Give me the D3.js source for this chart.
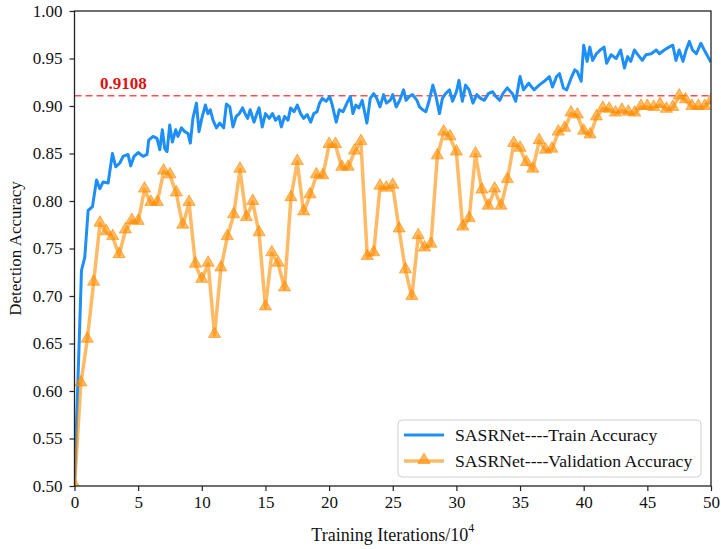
<!DOCTYPE html>
<html><head><meta charset="utf-8">
<script src="https://cdn.jsdelivr.net/npm/d3@7"></script>
<style>body{margin:0;background:#fff}svg{display:block}text{font-family:"Liberation Serif","Times New Roman",serif}</style>
</head><body><svg id="c" width="721" height="549"></svg>
<script>
const valIter = d3.range(0, 50.001, 0.5);
const valAcc = [0.500,0.608,0.654,0.714,0.776,0.767,0.762,0.743,0.769,0.779,0.778,0.812,0.798,0.798,0.831,0.827,0.808,0.774,0.798,0.733,0.717,0.734,0.659,0.729,0.762,0.785,0.833,0.782,0.799,0.766,0.688,0.745,0.734,0.708,0.803,0.841,0.788,0.806,0.827,0.826,0.859,0.859,0.835,0.835,0.852,0.862,0.741,0.745,0.815,0.813,0.816,0.770,0.727,0.699,0.763,0.750,0.754,0.847,0.872,0.867,0.851,0.772,0.781,0.849,0.811,0.794,0.812,0.794,0.822,0.860,0.855,0.840,0.833,0.863,0.853,0.854,0.872,0.876,0.892,0.890,0.873,0.869,0.888,0.897,0.896,0.892,0.895,0.893,0.892,0.899,0.899,0.898,0.901,0.896,0.898,0.910,0.906,0.899,0.899,0.899,0.905];
const trainIter = [0,0.55,0.81,1.07,1.41,1.73,1.99,2.25,2.64,2.98,3.24,3.56,3.82,4.2,4.42,4.68,5.0,5.39,5.7,5.83,6.17,6.48,6.7,6.9,7.09,7.27,7.48,7.69,7.95,8.13,8.4,8.66,8.92,9.1,9.3,9.58,9.78,10.0,10.28,10.48,10.67,10.88,11.15,11.4,11.72,11.93,12.2,12.45,12.7,12.95,13.2,13.4,13.6,13.8,14.1,14.3,14.5,14.75,15.0,15.3,15.55,15.8,16.06,16.25,16.5,16.77,16.98,17.25,17.5,17.76,18.0,18.28,18.55,18.8,19.05,19.25,19.46,19.78,20.04,20.25,20.56,20.8,21.1,21.4,21.67,21.87,22.1,22.34,22.6,22.97,23.23,23.5,23.75,24.0,24.28,24.5,24.8,25.0,25.27,25.55,25.85,26.05,26.3,26.55,26.9,27.1,27.36,27.6,27.85,28.15,28.4,28.67,28.9,29.15,29.46,29.7,30.0,30.2,30.47,30.72,31.0,31.3,31.6,31.9,32.2,32.5,32.85,33.1,33.4,33.65,34.0,34.4,34.66,35.0,35.27,35.68,36.1,36.5,36.9,37.3,37.55,37.87,38.1,38.4,38.67,39.0,39.3,39.5,39.8,40.0,40.27,40.48,40.7,41.0,41.3,41.6,41.8,42.15,42.55,42.9,43.2,43.45,43.7,43.98,44.25,44.6,44.9,45.3,45.7,45.95,46.33,46.7,47.0,47.25,47.5,47.8,48.05,48.3,48.55,48.85,49.2,49.47,50.0];
const trainAcc = [0.500,0.727,0.741,0.790,0.794,0.822,0.813,0.820,0.819,0.850,0.836,0.840,0.847,0.849,0.837,0.847,0.851,0.847,0.849,0.864,0.868,0.866,0.854,0.875,0.855,0.852,0.880,0.862,0.875,0.868,0.877,0.873,0.871,0.861,0.887,0.903,0.873,0.887,0.901,0.892,0.896,0.885,0.877,0.882,0.877,0.902,0.899,0.878,0.889,0.892,0.898,0.892,0.887,0.896,0.883,0.891,0.898,0.878,0.892,0.887,0.892,0.885,0.889,0.878,0.889,0.885,0.898,0.894,0.901,0.892,0.887,0.891,0.883,0.892,0.894,0.903,0.908,0.905,0.910,0.901,0.883,0.896,0.894,0.903,0.910,0.892,0.901,0.898,0.906,0.882,0.908,0.913,0.908,0.899,0.912,0.903,0.906,0.912,0.899,0.906,0.917,0.906,0.910,0.912,0.906,0.899,0.896,0.894,0.905,0.922,0.910,0.892,0.908,0.913,0.917,0.905,0.915,0.927,0.905,0.922,0.917,0.903,0.912,0.908,0.906,0.913,0.915,0.910,0.906,0.913,0.919,0.913,0.905,0.931,0.917,0.924,0.917,0.922,0.926,0.931,0.920,0.931,0.934,0.919,0.917,0.929,0.938,0.936,0.926,0.964,0.947,0.962,0.948,0.955,0.959,0.962,0.945,0.954,0.950,0.959,0.940,0.952,0.947,0.959,0.954,0.948,0.954,0.955,0.959,0.955,0.959,0.962,0.964,0.948,0.959,0.947,0.959,0.968,0.959,0.955,0.966,0.959,0.946];
const xTicks = [0,5,10,15,20,25,30,35,40,45,50];
const yTicks = [0.50,0.55,0.60,0.65,0.70,0.75,0.80,0.85,0.90,0.95,1.00];
const refValue = 0.9108;
const seriesNames = ["SASRNet----Train Accuracy","SASRNet----Validation Accuracy"];

const svg = d3.select("#c");
const m = {l:74.5, r:711, t:11, b:486};
const x = d3.scaleLinear().domain([0,50]).range([m.l, m.r]);
const y = d3.scaleLinear().domain([0.5,1.0]).range([m.b, m.t]);
const blue = "#1e8ff5", orange = "#ff8c00";

svg.append("clipPath").attr("id","clip").append("rect")
  .attr("x",m.l).attr("y",m.t).attr("width",m.r-m.l).attr("height",m.b-m.t);
const plot = svg.append("g").attr("clip-path","url(#clip)");

plot.append("line").attr("x1",m.l).attr("x2",m.r).attr("y1",y(refValue)).attr("y2",y(refValue))
  .attr("stroke","#ff3030").attr("stroke-opacity",0.85).attr("stroke-width",1.5).attr("stroke-dasharray","7,4");

const line = d3.line().x(d=>x(d[0])).y(d=>y(d[1]));
const trainData = trainIter.map((v,i)=>[v,trainAcc[i]]);
const valData = valIter.map((v,i)=>[v,valAcc[i]]);

plot.append("path").datum(trainData).attr("d",line).attr("fill","none")
  .attr("stroke",blue).attr("stroke-width",3).attr("stroke-linejoin","round");

plot.append("path").datum(valData).attr("d",line).attr("fill","none")
  .attr("stroke",orange).attr("stroke-opacity",0.6).attr("stroke-width",3.5).attr("stroke-linejoin","round");
const tri = d3.symbol().type(d3.symbolTriangle).size(64);
plot.selectAll(".m").data(valData).enter().append("path")
  .attr("transform",d=>`translate(${x(d[0])},${y(d[1])-1})`).attr("d",tri)
  .attr("fill",orange).attr("fill-opacity",0.6).attr("stroke",orange).attr("stroke-opacity",0.6).attr("stroke-width",1);

svg.append("text").attr("x",x(2)).attr("y",y(refValue)-7).text(refValue.toFixed(4))
  .attr("fill","#e01010").attr("font-weight","bold").attr("font-size",17);

const xa = svg.append("g").attr("transform",`translate(0,${m.b})`)
  .call(d3.axisBottom(x).tickValues(xTicks).tickSize(5).tickPadding(5).tickFormat(d3.format("d")));
const ya = svg.append("g").attr("transform",`translate(${m.l},0)`)
  .call(d3.axisLeft(y).tickValues(yTicks).tickSize(5).tickPadding(7).tickFormat(d3.format(".2f")));
[xa,ya].forEach(a=>{a.select(".domain").remove();a.selectAll("text").attr("font-size",17).attr("fill","#111").attr("font-family","Liberation Serif");a.selectAll("line").attr("stroke","#222").attr("stroke-width",1.2);});
svg.append("rect").attr("x",m.l).attr("y",m.t).attr("width",m.r-m.l).attr("height",m.b-m.t)
  .attr("fill","none").attr("stroke","#222").attr("stroke-width",1.3);

const xl = svg.append("text").attr("x",(m.l+m.r)/2).attr("y",541).attr("text-anchor","middle").attr("font-size",18).attr("fill","#111");
xl.append("tspan").text("Training Iterations/10");
xl.append("tspan").text("4").attr("font-size",12).attr("dy",-9);
svg.append("text").attr("transform",`translate(21,${(m.t+m.b)/2}) rotate(-90)`).attr("text-anchor","middle")
  .attr("font-size",17).attr("fill","#111").text("Detection Accuracy");

const lg = svg.append("g");
lg.append("rect").attr("x",398).attr("y",420).attr("width",303).attr("height",57).attr("rx",4)
  .attr("fill","#fff").attr("fill-opacity",0.85).attr("stroke","#d0d0d0").attr("stroke-width",1);
lg.append("line").attr("x1",404).attr("x2",444).attr("y1",435).attr("y2",435).attr("stroke",blue).attr("stroke-width",3);
lg.append("line").attr("x1",404).attr("x2",444).attr("y1",461).attr("y2",461).attr("stroke",orange).attr("stroke-opacity",0.6).attr("stroke-width",3.5);
lg.append("path").attr("transform","translate(424,460)").attr("d",tri).attr("fill",orange).attr("fill-opacity",0.6).attr("stroke",orange).attr("stroke-opacity",0.6);
lg.selectAll("text.l").data(seriesNames).enter().append("text").attr("x",455).attr("y",(d,i)=>441+i*26)
  .attr("font-size",17.7).attr("fill","#111").text(d=>d);
</script></body></html>
